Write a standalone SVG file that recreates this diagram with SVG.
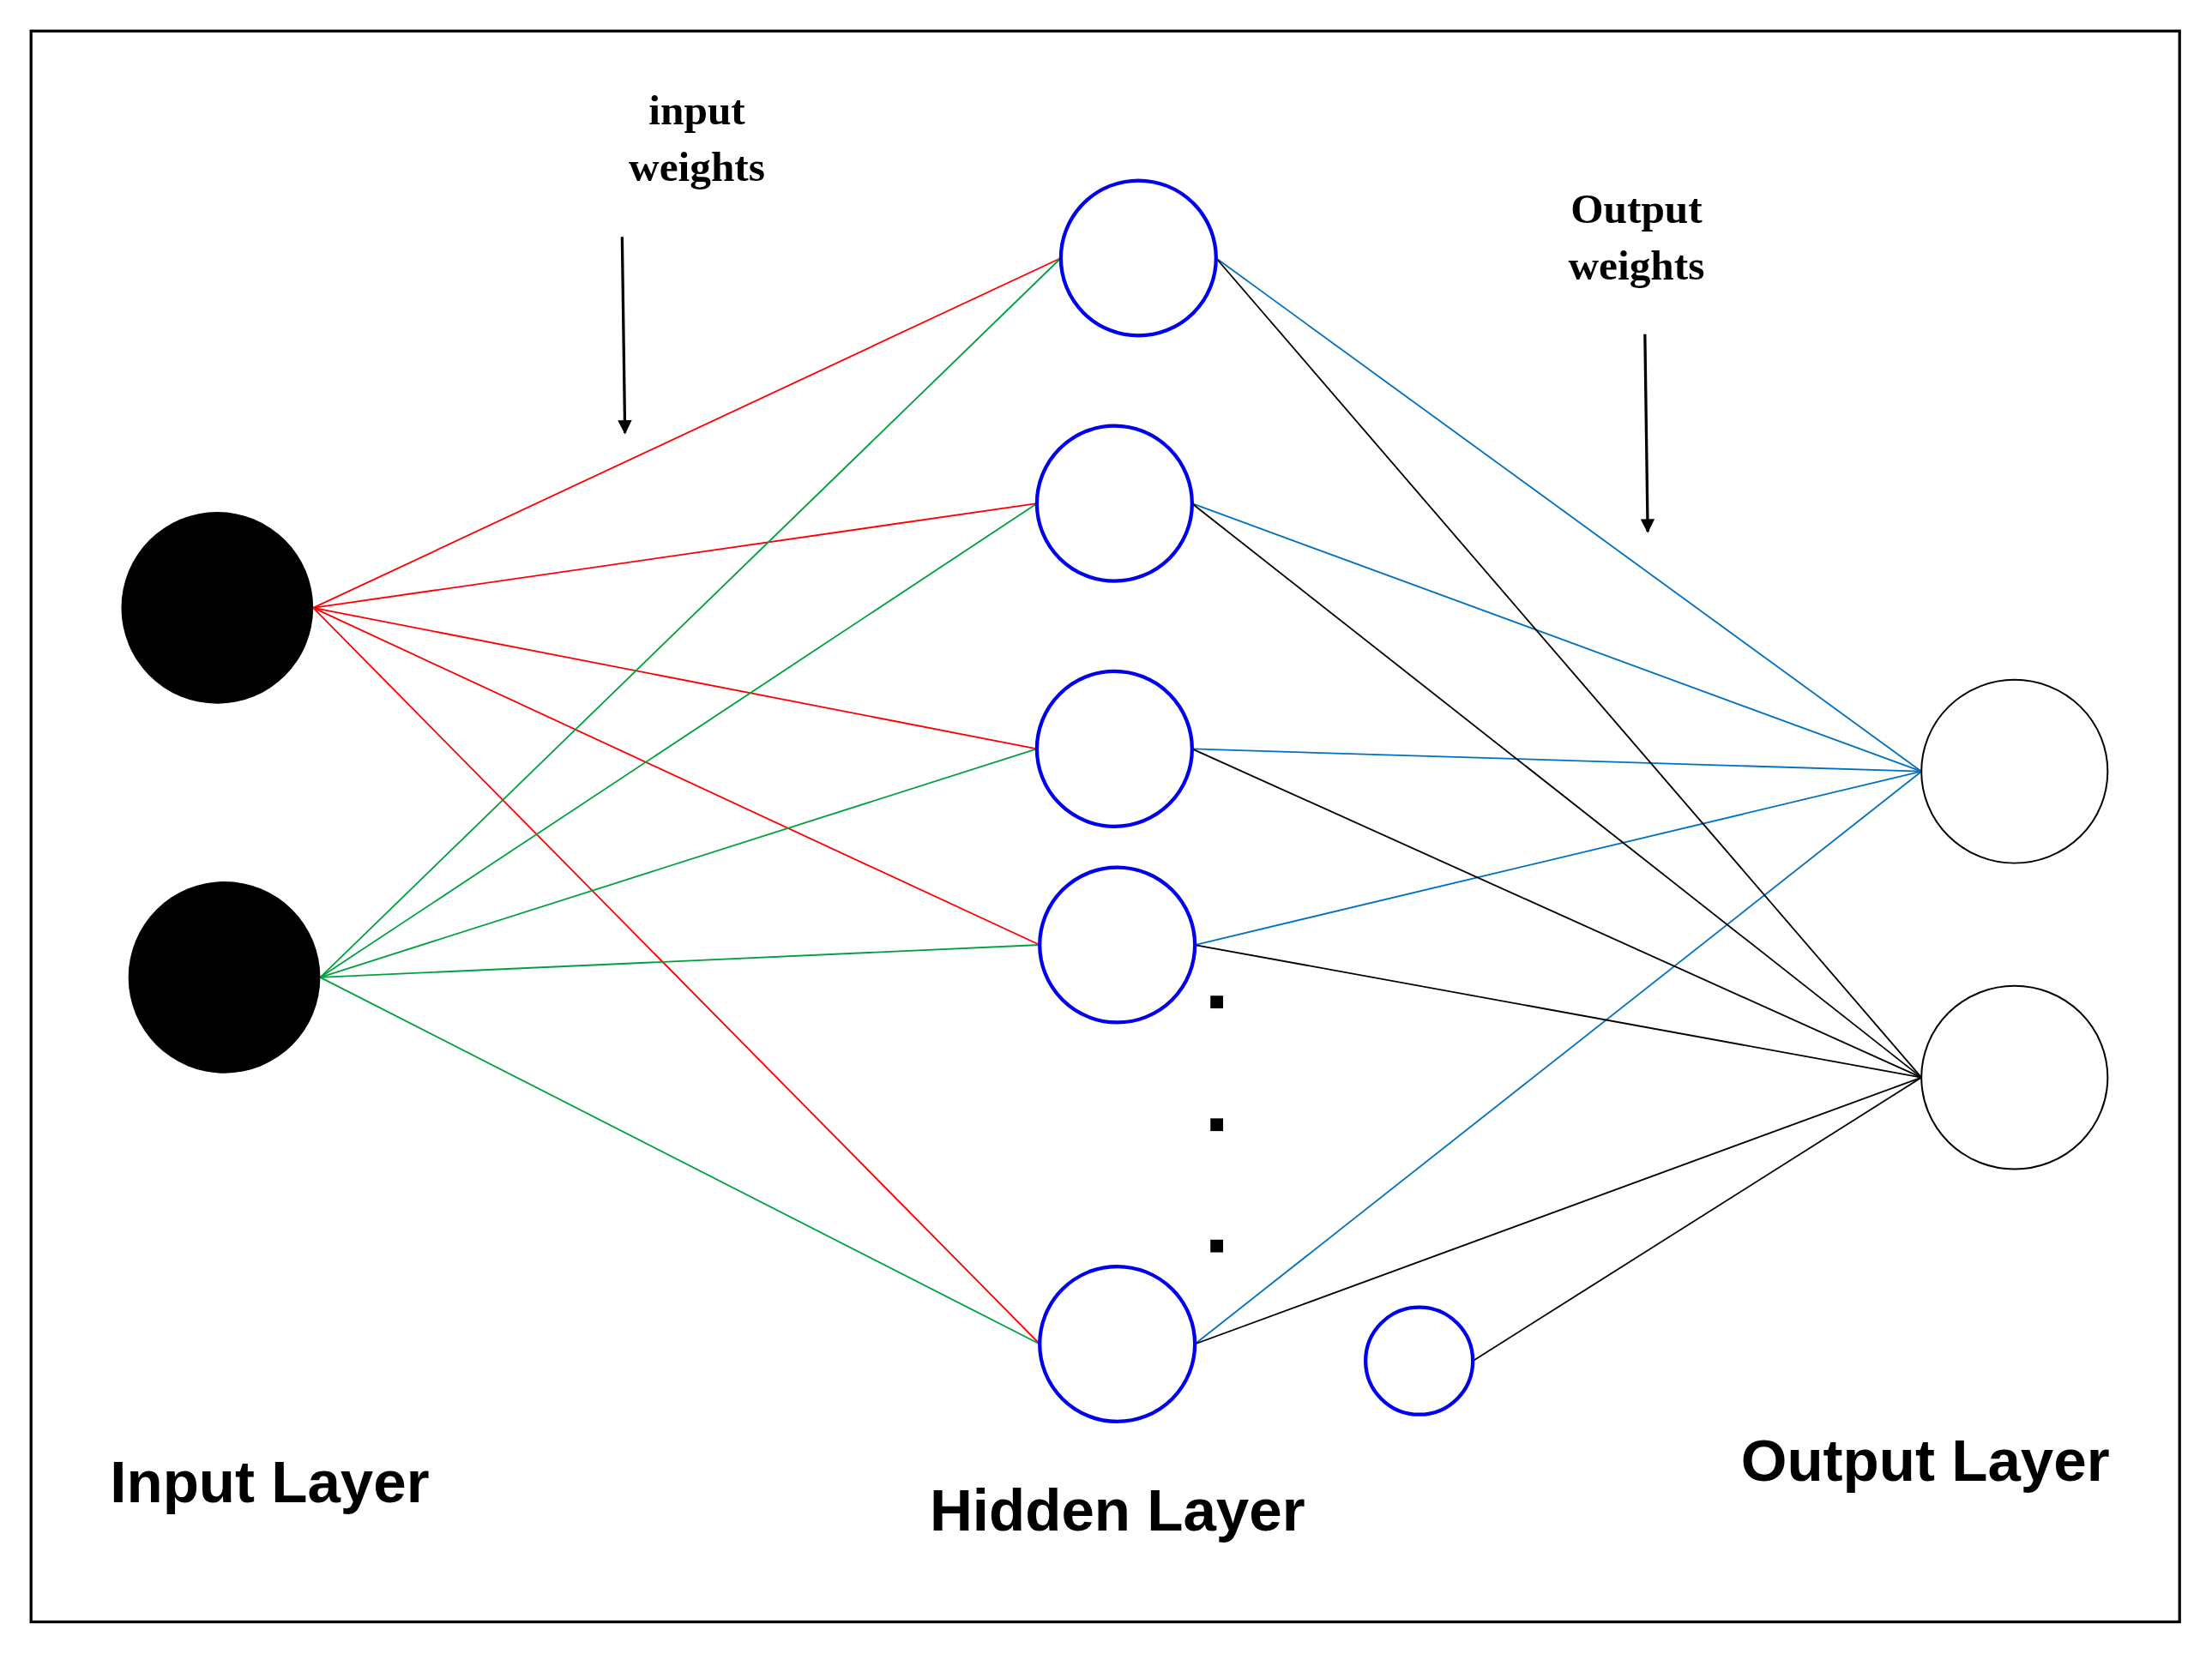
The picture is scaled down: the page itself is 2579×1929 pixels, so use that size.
<svg xmlns="http://www.w3.org/2000/svg" width="2579" height="1929" viewBox="0 0 2579 1929">
<defs>
<marker id="ah" markerWidth="10" markerHeight="10" refX="9" refY="5" orient="auto" markerUnits="userSpaceOnUse" viewBox="0 0 10 10"><path d="M0,0 L10,5 L0,10 z" fill="#000"/></marker>
<style>
.hid{fill:#fff;stroke:#0000ee;stroke-width:2.6}
.out{fill:#fff;stroke:#000;stroke-width:1.2}
.inp{fill:#000}
.r{stroke:#ff0000;stroke-width:1.1}
.g{stroke:#00a040;stroke-width:1.1}
.b{stroke:#0070c0;stroke-width:1.1}
.k{stroke:#000;stroke-width:1.1}
.ser{font-family:"Liberation Serif",serif;font-weight:bold;font-size:30px;text-anchor:middle}
.lab{font-family:"Liberation Sans",Arial,sans-serif;font-weight:bold;font-size:42px}
</style>
</defs>
<rect width="2579" height="1929" fill="#fff"/>
<g transform="scale(1.6448)">
<rect x="22" y="22" width="1523" height="1128" fill="none" stroke="#000" stroke-width="2"/>
<g id="connectors">
<line class="r" x1="222" y1="431" x2="752" y2="183"/>
<line class="r" x1="222" y1="431" x2="735" y2="357"/>
<line class="r" x1="222" y1="431" x2="735" y2="531"/>
<line class="r" x1="222" y1="431" x2="737" y2="670"/>
<line class="r" x1="222" y1="431" x2="737" y2="953"/>
<line class="g" x1="227" y1="693" x2="752" y2="183"/>
<line class="g" x1="227" y1="693" x2="735" y2="357"/>
<line class="g" x1="227" y1="693" x2="735" y2="531"/>
<line class="g" x1="227" y1="693" x2="737" y2="670"/>
<line class="g" x1="227" y1="693" x2="737" y2="953"/>
<line class="b" x1="862" y1="183" x2="1362" y2="547"/>
<line class="b" x1="845" y1="357" x2="1362" y2="547"/>
<line class="b" x1="845" y1="531" x2="1362" y2="547"/>
<line class="b" x1="847" y1="670" x2="1362" y2="547"/>
<line class="b" x1="847" y1="953" x2="1362" y2="547"/>
<line class="k" x1="862" y1="183" x2="1362" y2="764"/>
<line class="k" x1="845" y1="357" x2="1362" y2="764"/>
<line class="k" x1="845" y1="531" x2="1362" y2="764"/>
<line class="k" x1="847" y1="670" x2="1362" y2="764"/>
<line class="k" x1="847" y1="953" x2="1362" y2="764"/>
<line class="k" x1="1044" y1="965" x2="1362" y2="764"/>
<line stroke="#000" stroke-width="2" x1="441" y1="168" x2="443" y2="307" marker-end="url(#ah)"/>
<line stroke="#000" stroke-width="2" x1="1166" y1="237" x2="1168" y2="377" marker-end="url(#ah)"/>
</g>
<g id="in1"><circle class="inp" cx="154" cy="431" r="68"/></g>
<g id="in2"><circle class="inp" cx="159" cy="693" r="68"/></g>
<g id="h1"><circle class="hid" cx="807" cy="183" r="55"/></g>
<g id="h2"><circle class="hid" cx="790" cy="357" r="55"/></g>
<g id="h3"><circle class="hid" cx="790" cy="531" r="55"/></g>
<g id="h4"><circle class="hid" cx="792" cy="670" r="55"/></g>
<g id="h5"><circle class="hid" cx="792" cy="953" r="55"/></g>
<g id="bias"><circle class="hid" cx="1006" cy="965" r="38"/></g>
<g id="o1"><ellipse class="out" cx="1428" cy="547" rx="66" ry="65"/></g>
<g id="o2"><ellipse class="out" cx="1428" cy="764" rx="66" ry="65"/></g>
<g id="dots">
<rect x="858" y="706" width="9" height="9"/>
<rect x="858" y="793" width="9" height="9"/>
<rect x="858" y="879" width="9" height="9"/>
</g>
<g id="texts">
<text class="ser" x="494" y="88">input</text>
<text class="ser" x="494" y="128">weights</text>
<text class="ser" x="1160" y="158">Output</text>
<text class="ser" x="1160" y="198">weights</text>
<text class="lab" x="78" y="1065">Input Layer</text>
<text class="lab" x="659" y="1085">Hidden Layer</text>
<text class="lab" x="1234" y="1050">Output Layer</text>
</g>
</g>
</svg>
